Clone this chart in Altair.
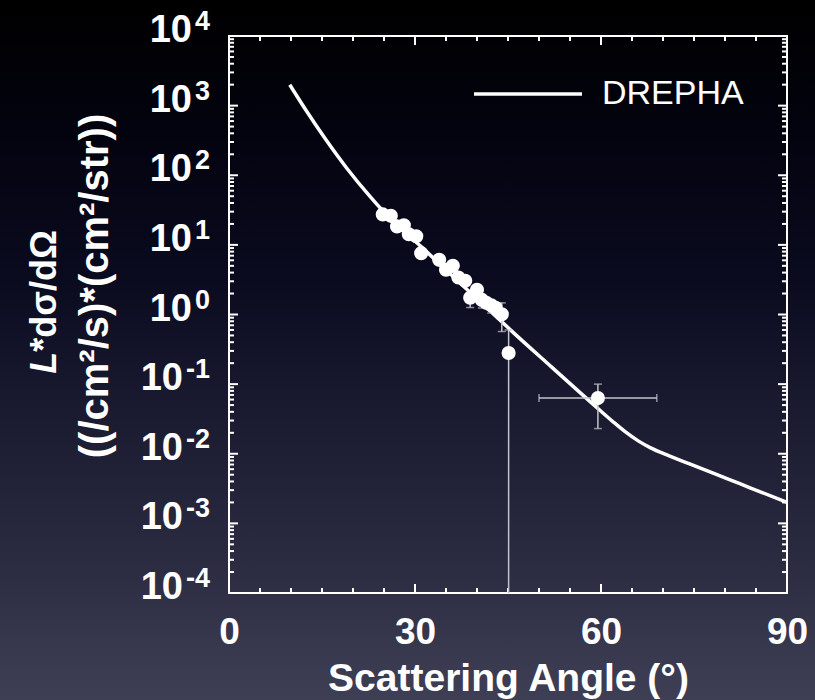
import altair as alt
import pandas as pd

# ---------------- data ----------------
angle = [24.8, 26.1, 27.1, 28.2, 29.0, 30.2, 31.0, 33.9, 35.0, 36.1, 37.0,
         38.1, 38.9, 40.0, 40.8, 41.5, 42.3, 43.0, 44.0, 45.1, 59.5]
value = [27.4, 26.1, 18.4, 19.1, 14.2, 13.3, 7.6, 6.1, 4.4, 5.0, 3.4,
         3.05, 1.74, 2.26, 1.62, 1.47, 1.36, 1.25, 1.01, 0.28, 0.063]

err_angle = [38.9, 40.8, 42.3, 44.0, 45.1, 59.5]
err_lo = [1.26, 1.24, 1.05, 0.57, 1e-5, 0.023]
err_hi = [1.74, 1.62, 1.36, 1.47, 0.60, 0.10]

xerr_lo = [50.0]
xerr_hi = [69.0]
xerr_value = [0.063]

drepha_angle = [9.8, 12.5, 15.5, 19.0, 22.7, 26.5, 30.8, 34.5, 38.0, 42.0, 46.0,
                52.0, 58.2, 60.0, 62.0, 64.0, 66.0, 68.0, 70.0, 72.0, 74.4, 78.5,
                82.4, 86.0, 90.0]
drepha_value = [1995, 836, 336, 126, 50.1, 21.4, 9.77, 4.82, 2.47, 1.15, 0.536,
                0.177, 0.0566, 0.0407, 0.0285, 0.0204, 0.0153, 0.01216, 0.01012,
                0.00861, 0.00708, 0.00508, 0.00371, 0.00277, 0.00201]
series_name = "DREPHA"

x_label_values = [0, 30, 60, 90]
x_major_ticks = [0, 30, 60, 90]
x_minor_ticks = [5, 10, 15, 20, 25, 35, 40, 45, 50, 55, 65, 70, 75, 80, 85]
y_exponents = [-4, -3, -2, -1, 0, 1, 2, 3, 4]
y_minor_mult = [2, 3, 4, 5, 6, 7, 8, 9]

x_title = "Scattering Angle (°)"
y_title_italic = "L"
y_title_rest = "*dσ/dΩ"
y_title_line2 = "((/cm²/s)*(cm²/str))"

# ---------------- layout / style ----------------
W, H = 558, 557
PAD = {"left": 229, "top": 36, "right": 28, "bottom": 107}
FONT = "Liberation Sans"
MAJ, MIN = 9, 5
ERRC = "#c4c4cc"

xs = alt.Scale(domain=[0, 90], nice=False, zero=False)
ys = alt.Scale(type="log", domain=[1e-4, 1e4], nice=False)

xaxis = alt.Axis(values=x_label_values, ticks=False, tickSize=0, domain=False, grid=False,
                 labelFont=FONT, labelFontSize=37, labelFontWeight="bold", labelColor="white",
                 labelPadding=21, labelFlush=False, labelOverlap=False, zindex=1,
                 title=x_title, titleFont=FONT, titleFontSize=39, titleFontWeight="bold",
                 titleColor="white", titleX=W / 2, titleY=97, titleBaseline="alphabetic",
                 titleAlign="center")

def X(field):
    return alt.X(field, scale=xs, axis=xaxis)

def Y(field):
    return alt.Y(field, scale=ys, axis=None)

one = pd.DataFrame({"k": [0]})

# background gradient
bg = alt.Chart(one).mark_rect(
    fill={"gradient": "linear", "x1": 0, "y1": 0, "x2": 0, "y2": 1,
          "stops": [{"offset": 0.0, "color": "#000000"},
                    {"offset": 0.2, "color": "#030310"},
                    {"offset": 0.4, "color": "#0b0b20"},
                    {"offset": 0.55, "color": "#17172d"},
                    {"offset": 0.67, "color": "#202036"},
                    {"offset": 0.83, "color": "#2d2d44"},
                    {"offset": 0.93, "color": "#38384e"},
                    {"offset": 1.0, "color": "#3e3e54"}]}
).encode(x=alt.value(-PAD["left"]), x2=alt.value(W + PAD["right"]),
         y=alt.value(-PAD["top"]), y2=alt.value(H + PAD["bottom"]))

frame = alt.Chart(one).mark_rect(filled=False, stroke="white", strokeWidth=2).encode(
    x=alt.value(0), x2=alt.value(W), y=alt.value(0), y2=alt.value(H))

layers = [bg, frame]

# ticks (inward, mirrored)
xt_major = pd.DataFrame({"v": x_major_ticks})
xt_minor = pd.DataFrame({"v": x_minor_ticks})
yt_major = pd.DataFrame({"v": [10.0 ** e for e in y_exponents]})
yt_minor = pd.DataFrame({"v": [m * 10.0 ** e for e in y_exponents[:-1] for m in y_minor_mult]})

for df, L in [(xt_major, MAJ), (xt_minor, MIN)]:
    layers.append(alt.Chart(df).mark_rule(color="white", strokeWidth=2).encode(
        x=X("v:Q"), y=alt.value(H), y2=alt.value(H - L)))
    layers.append(alt.Chart(df).mark_rule(color="white", strokeWidth=2).encode(
        x=X("v:Q"), y=alt.value(0), y2=alt.value(L)))
for df, L in [(yt_major, MAJ), (yt_minor, MIN)]:
    layers.append(alt.Chart(df).mark_rule(color="white", strokeWidth=2).encode(
        y=Y("v:Q"), x=alt.value(0), x2=alt.value(L)))
    layers.append(alt.Chart(df).mark_rule(color="white", strokeWidth=2).encode(
        y=Y("v:Q"), x=alt.value(W), x2=alt.value(W - L)))

# y tick labels 10^n
ylab = pd.DataFrame({"v": [10.0 ** e for e in y_exponents],
                     "e": [str(e) for e in y_exponents],
                     "neg": [e < 0 for e in y_exponents]})
ten_style = dict(text="10", align="right", baseline="alphabetic", dy=6, font=FONT,
                 fontSize=38, fontWeight="bold", color="white")
layers.append(alt.Chart(ylab).transform_filter("!datum.neg").mark_text(**ten_style).encode(
    y=Y("v:Q"), x=alt.value(-37)))
layers.append(alt.Chart(ylab).transform_filter("datum.neg").mark_text(**ten_style).encode(
    y=Y("v:Q"), x=alt.value(-46)))
layers.append(alt.Chart(ylab).mark_text(align="right", baseline="alphabetic", dy=-6, font=FONT,
                                        fontSize=27, fontWeight="bold", color="white").encode(
    y=Y("v:Q"), x=alt.value(-19), text="e:N"))

# y title
YT1, YT2 = 36, 40
mid1, mid2 = 268, 250
l_w = 0.611 * YT1
rest_w = 3.26 * YT1
start = mid1 + (l_w + rest_w) / 2
layers.append(alt.Chart(one).mark_text(text=y_title_italic, angle=270, align="left",
                                       baseline="alphabetic", font=FONT, fontSize=YT1,
                                       fontWeight="bold", fontStyle="italic", color="white").encode(
    x=alt.value(-173), y=alt.value(start)))
layers.append(alt.Chart(one).mark_text(text=y_title_rest, angle=270, align="left",
                                       baseline="alphabetic", font=FONT, fontSize=YT1,
                                       fontWeight="bold", color="white").encode(
    x=alt.value(-173), y=alt.value(start - l_w)))
layers.append(alt.Chart(one).mark_text(text=y_title_line2, angle=270, align="center",
                                       baseline="alphabetic", font=FONT, fontSize=YT2,
                                       fontWeight="bold", color="white").encode(
    x=alt.value(-121), y=alt.value(mid2)))

# model curve
line_df = pd.DataFrame({"a": drepha_angle, "v": drepha_value, "s": series_name})
layers.append(alt.Chart(line_df).mark_line(strokeWidth=3.5, interpolate="monotone", clip=True).encode(
    x=X("a:Q"), y=Y("v:Q"),
    color=alt.Color("s:N", scale=alt.Scale(domain=[series_name], range=["white"]),
                    legend=alt.Legend(orient="none", legendX=243, legendY=2, title=None,
                                      symbolType="stroke", symbolSize=108 * 108,
                                      symbolStrokeWidth=3.5, labelFont=FONT, labelFontSize=34,
                                      labelColor="white", labelOffset=18, padding=0))))

# error bars
err_df = pd.DataFrame({"a": err_angle, "lo": err_lo, "hi": err_hi})
layers.append(alt.Chart(err_df).mark_rule(color=ERRC, strokeWidth=1.5, clip=True).encode(
    x=X("a:Q"), y=Y("lo:Q"), y2="hi:Q"))
layers.append(alt.Chart(err_df).mark_tick(color=ERRC, thickness=1.5, size=8, orient="horizontal",
                                          clip=True).encode(x=X("a:Q"), y=Y("lo:Q")))
layers.append(alt.Chart(err_df).mark_tick(color=ERRC, thickness=1.5, size=8, orient="horizontal",
                                          clip=True).encode(x=X("a:Q"), y=Y("hi:Q")))
xerr_df = pd.DataFrame({"lo": xerr_lo, "hi": xerr_hi, "v": xerr_value})
layers.append(alt.Chart(xerr_df).mark_rule(color=ERRC, strokeWidth=1.5).encode(
    x=X("lo:Q"), x2="hi:Q", y=Y("v:Q")))
layers.append(alt.Chart(xerr_df).mark_tick(color=ERRC, thickness=1.5, size=8, orient="vertical").encode(
    x=X("lo:Q"), y=Y("v:Q")))
layers.append(alt.Chart(xerr_df).mark_tick(color=ERRC, thickness=1.5, size=8, orient="vertical").encode(
    x=X("hi:Q"), y=Y("v:Q")))

# data points
pts = pd.DataFrame({"a": angle, "v": value})
layers.append(alt.Chart(pts).mark_circle(size=200, color="white", opacity=1).encode(
    x=X("a:Q"), y=Y("v:Q")))

chart = alt.layer(*layers).properties(
    width=W, height=H,
    autosize=alt.AutoSizeParams(type="none"),
    padding=PAD,
    background="#000000",
).configure_view(stroke=None)

chart.save("out.html", embed_options={"renderer": "svg", "actions": False})
